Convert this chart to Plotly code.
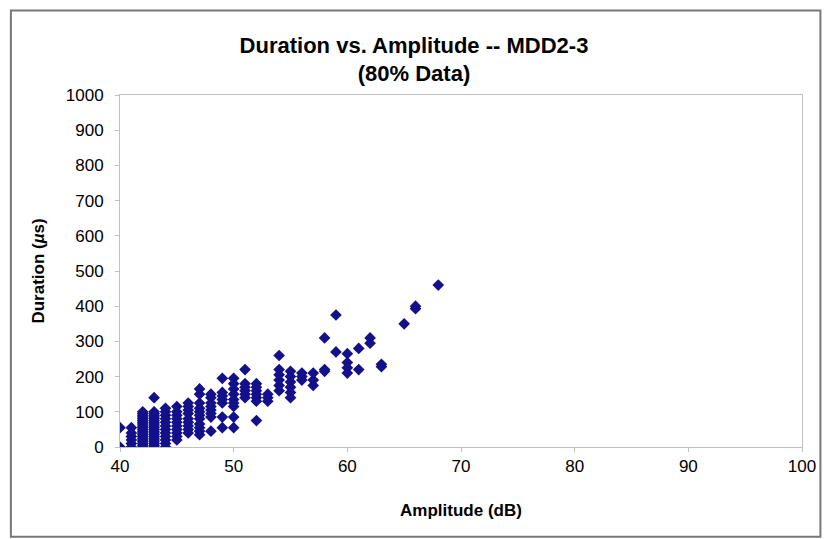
import plotly.graph_objects as go

# Amplitude (dB) and Duration (µs), grouped by amplitude column
amp_40 = [0, 55]
amp_41 = [0, 10, 20, 30, 40, 55]
amp_42 = [0, 5, 10, 15, 20, 25, 30, 35, 40, 45, 50, 55, 60, 65, 70, 75, 80, 85, 90, 95, 100]
amp_43 = [0, 5, 10, 15, 20, 25, 30, 35, 40, 45, 50, 55, 60, 65, 70, 75, 80, 85, 90, 95, 100, 140]
amp_44 = [0, 10, 20, 30, 40, 50, 60, 70, 80, 90, 100, 110]
amp_45 = [20, 30, 40, 50, 60, 70, 80, 90, 100, 115]
amp_46 = [40, 50, 60, 70, 80, 95, 105, 115, 125]
amp_47 = [35, 45, 55, 65, 80, 90, 100, 110, 125, 150, 165]
amp_48 = [45, 85, 95, 105, 115, 125, 140, 150]
amp_49 = [55, 85, 125, 135, 145, 155, 195]
amp_50 = [55, 85, 115, 125, 135, 150, 165, 180, 195]
amp_51 = [140, 150, 160, 170, 180, 220]
amp_52 = [75, 130, 140, 150, 160, 170, 180]
amp_53 = [130, 140, 150]
amp_54 = [160, 175, 190, 205, 220, 260]
amp_55 = [140, 155, 170, 185, 200, 215]
amp_56 = [190, 200, 210]
amp_57 = [175, 190, 210]
amp_58 = [215, 220, 310]
amp_59 = [270, 375]
amp_60 = [210, 225, 240, 265]
amp_61 = [220, 280]
amp_62 = [295, 310]
amp_63 = [228, 235]
amp_65 = [350]
amp_66 = [393, 400]
amp_68 = [460]

columns = {
    40: amp_40, 41: amp_41, 42: amp_42, 43: amp_43, 44: amp_44, 45: amp_45,
    46: amp_46, 47: amp_47, 48: amp_48, 49: amp_49, 50: amp_50, 51: amp_51,
    52: amp_52, 53: amp_53, 54: amp_54, 55: amp_55, 56: amp_56, 57: amp_57,
    58: amp_58, 59: amp_59, 60: amp_60, 61: amp_61, 62: amp_62, 63: amp_63,
    65: amp_65, 66: amp_66, 68: amp_68,
}

amplitude = []
duration = []
for a, ds in columns.items():
    for d in ds:
        amplitude.append(a)
        duration.append(d)

x_ticks = [40, 50, 60, 70, 80, 90, 100]
y_ticks = [0, 100, 200, 300, 400, 500, 600, 700, 800, 900, 1000]

font_family = "Liberation Sans, Arial, sans-serif"

fig = go.Figure()
fig.add_trace(go.Scatter(
    x=amplitude, y=duration, mode="markers",
    marker=dict(symbol="diamond", size=9, color="#13108a", line=dict(width=0)),
    showlegend=False,
))

fig.update_layout(
    width=828, height=539,
    margin=dict(l=120, r=20, t=95, b=92),
    paper_bgcolor="white", plot_bgcolor="white",
    font=dict(family=font_family, color="black"),
    title=dict(
        text="<b>Duration vs. Amplitude -- MDD2-3</b><br><b>(80% Data)</b>",
        x=0.5, xanchor="center", xref="container",
        y=0.902, yanchor="top",
        font=dict(size=22, family=font_family),
    ),
    xaxis=dict(
        range=[40, 100], tickvals=x_ticks, ticktext=[str(v) for v in x_ticks],
        showgrid=False, zeroline=False, showline=True, linecolor="#c0c0c0", linewidth=1,
        ticks="outside", ticklen=4, tickcolor="#c0c0c0",
        tickfont=dict(size=17, family=font_family),
        title=dict(text="<b>Amplitude (dB)</b>", font=dict(size=17, family=font_family), standoff=28),
        mirror=True,
    ),
    yaxis=dict(
        range=[0, 1000], tickvals=y_ticks, ticktext=[str(v) for v in y_ticks],
        showgrid=False, zeroline=False, showline=True, linecolor="#c0c0c0", linewidth=1,
        ticks="outside", ticklen=4, tickcolor="#c0c0c0", ticklabelstandoff=8,
        tickfont=dict(size=17, family=font_family),
        title=dict(text="<b>Duration (<i>µ</i>s)</b>", font=dict(size=17, family=font_family), standoff=16),
        mirror=True,
    ),
    shapes=[dict(
        type="rect", xref="paper", yref="paper",
        x0=-0.16, x1=1.027, y0=-0.255, y1=1.24,
        line=dict(color="#777777", width=2), fillcolor="rgba(0,0,0,0)",
    )],
)

fig.write_html("out.html")
